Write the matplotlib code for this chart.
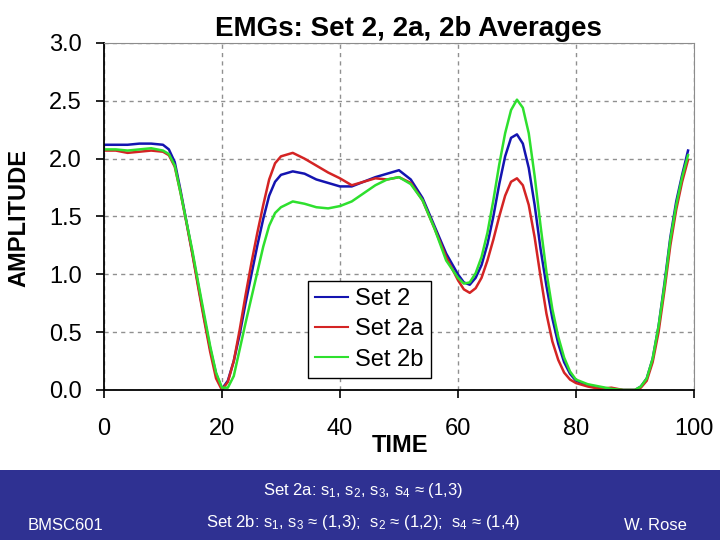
import matplotlib
matplotlib.use("Agg")
import matplotlib.pyplot as plt
from matplotlib.patches import Rectangle

plt.rcParams["font.family"] = ["Liberation Sans", "DejaVu Sans"]
plt.rcParams["mathtext.fontset"] = "custom"
plt.rcParams["mathtext.rm"] = "Liberation Sans"
plt.rcParams["mathtext.it"] = "Liberation Sans"

# time axis (percent of cycle), shared by the three averaged EMG curves
time = [0, 2, 4, 6, 8, 10, 11, 12, 13, 14, 15, 16, 17, 18, 19, 20, 21, 22, 23,
        24, 25, 26, 27, 28, 29, 30, 32, 34, 36, 38, 40, 42, 44, 46, 48, 50, 52,
        54, 56, 58, 60, 61, 62, 63, 64, 65, 66, 67, 68, 69, 70, 71, 72, 73, 74,
        75, 76, 77, 78, 79, 80, 82, 84, 86, 88, 90, 91, 92, 93, 94, 95, 96, 97,
        98, 99]

set_2 = [2.12, 2.12, 2.12, 2.13, 2.13, 2.12, 2.08, 1.97, 1.72, 1.45, 1.18, 0.90,
         0.62, 0.36, 0.14, 0.01, 0.08, 0.25, 0.48, 0.75, 1.00, 1.25, 1.48, 1.68,
         1.80, 1.86, 1.89, 1.87, 1.82, 1.79, 1.76, 1.76, 1.80, 1.84, 1.87, 1.90,
         1.82, 1.66, 1.42, 1.18, 1.00, 0.93, 0.91, 0.97, 1.08, 1.26, 1.50, 1.78,
         2.02, 2.18, 2.21, 2.13, 1.92, 1.60, 1.22, 0.90, 0.62, 0.40, 0.24, 0.14,
         0.08, 0.04, 0.02, 0.01, 0.00, 0.00, 0.03, 0.10, 0.27, 0.55, 0.92, 1.32,
         1.63, 1.86, 2.07]

set_2a = [2.07, 2.07, 2.05, 2.06, 2.07, 2.06, 2.03, 1.93, 1.70, 1.44, 1.17, 0.88,
          0.60, 0.33, 0.10, 0.00, 0.07, 0.25, 0.52, 0.82, 1.10, 1.36, 1.60, 1.82,
          1.96, 2.02, 2.05, 2.00, 1.94, 1.88, 1.83, 1.77, 1.80, 1.83, 1.82, 1.84,
          1.79, 1.64, 1.40, 1.15, 0.95, 0.87, 0.84, 0.88, 0.97, 1.12, 1.30, 1.50,
          1.68, 1.80, 1.83, 1.77, 1.60, 1.32, 0.98, 0.66, 0.42, 0.26, 0.15, 0.09,
          0.06, 0.03, 0.01, 0.02, 0.00, 0.00, 0.02, 0.08, 0.24, 0.50, 0.86, 1.25,
          1.56, 1.80, 1.99]

set_2b = [2.08, 2.08, 2.07, 2.08, 2.09, 2.07, 2.04, 1.94, 1.70, 1.45, 1.20, 0.92,
          0.65, 0.38, 0.15, 0.02, 0.02, 0.12, 0.35, 0.58, 0.80, 1.02, 1.24, 1.42,
          1.53, 1.58, 1.63, 1.61, 1.58, 1.57, 1.59, 1.63, 1.70, 1.77, 1.82, 1.84,
          1.78, 1.64, 1.40, 1.12, 0.97, 0.92, 0.93, 1.01, 1.15, 1.36, 1.64, 1.95,
          2.22, 2.42, 2.51, 2.44, 2.22, 1.85, 1.42, 1.02, 0.70, 0.46, 0.28, 0.16,
          0.09, 0.05, 0.03, 0.01, 0.00, 0.00, 0.03, 0.10, 0.27, 0.55, 0.90, 1.30,
          1.60, 1.84, 2.03]

series = [
    ("Set 2", set_2, "#1414b0"),
    ("Set 2a", set_2a, "#d42424"),
    ("Set 2b", set_2b, "#2ee02e"),
]

x_ticks = [0, 20, 40, 60, 80, 100]
y_ticks = [0.0, 0.5, 1.0, 1.5, 2.0, 2.5, 3.0]

fig = plt.figure(figsize=(7.2, 5.4), dpi=100)
ax = fig.add_axes([0.1444, 0.2778, 0.8194, 0.6426])

for label, values, colour in series:
    ax.plot(time, values, color=colour, lw=1.8, label=label)

ax.set_xlim(0, 100)
ax.set_ylim(0, 3.0)
ax.set_xticks(x_ticks)
ax.set_yticks(y_ticks)
ax.set_yticklabels([f"{v:.1f}" for v in y_ticks])
ax.tick_params(axis="both", labelsize=17, direction="out", length=6,
               width=1.2, color="black")
ax.tick_params(axis="y", pad=10)
ax.tick_params(axis="x", pad=14)

ax.grid(True, ls=(0, (3, 3)), color="#909090", lw=1.0)
for side in ("top", "right"):
    ax.spines[side].set_color("#8c8c8c")
for side in ("left", "bottom"):
    ax.spines[side].set_color("black")
    ax.spines[side].set_linewidth(1.3)

ax.set_xlabel("TIME", fontsize=17, fontweight="bold")
ax.xaxis.set_label_coords(0.502, -0.128)
ax.set_ylabel("AMPLITUDE", fontsize=17, fontweight="bold")
ax.yaxis.set_label_coords(-0.125, 0.496)

fig.text(0.567, 0.946, "EMGs: Set 2, 2a, 2b Averages", fontsize=20,
         fontweight="bold", ha="center", va="center")

leg = ax.legend(loc="lower left", bbox_to_anchor=(0.346, 0.035), fontsize=17,
                frameon=True, fancybox=False, edgecolor="black",
                framealpha=1.0, borderpad=0.3, labelspacing=0.35,
                handlelength=1.4, handletextpad=0.3, borderaxespad=0.0)
leg.get_frame().set_linewidth(1.0)
for handle in leg.get_lines():
    handle.set_linewidth(1.5)

# footer band of the slide
fig.patches.append(Rectangle((0, 0), 1, 70 / 540, transform=fig.transFigure,
                             facecolor="#2f3192", edgecolor="none", zorder=0))
fig.text(0.504, 1 - 490 / 540,
         "Set 2a: s$_1$, s$_2$, s$_3$, s$_4$ \u2248 (1,3)",
         color="white", fontsize=12, ha="center", va="center")
fig.text(0.504, 1 - 523 / 540,
         "Set 2b: s$_1$, s$_3$ \u2248 (1,3);  s$_2$ \u2248 (1,2);  s$_4$ \u2248 (1,4)",
         color="white", fontsize=12, ha="center", va="center")
fig.text(0.091, 1 - 525 / 540, "BMSC601", color="white", fontsize=12,
         ha="center", va="center")
fig.text(0.910, 1 - 525 / 540, "W. Rose", color="white", fontsize=12,
         ha="center", va="center")

fig.savefig("out.png", dpi=100)
